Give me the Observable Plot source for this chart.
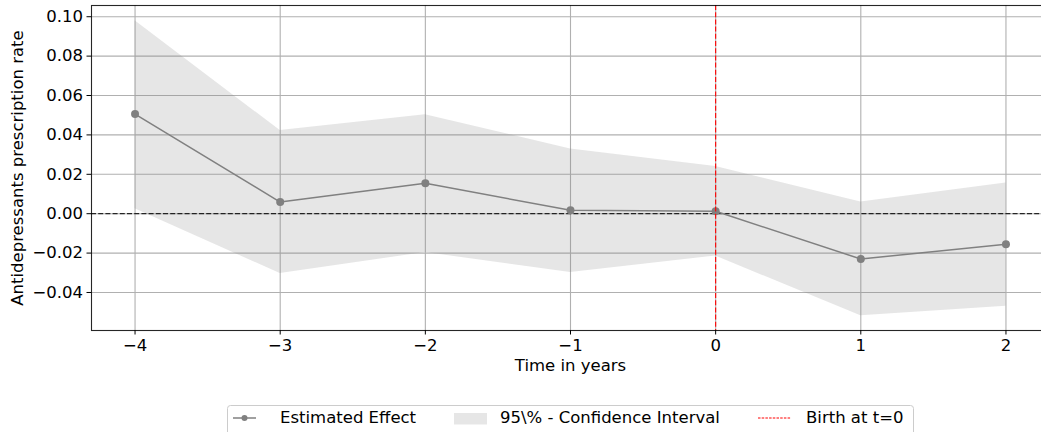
<!DOCTYPE html>
<html>
<head>
<meta charset="utf-8">
<script src="https://cdn.jsdelivr.net/npm/d3@7"></script>
<script src="https://cdn.jsdelivr.net/npm/@observablehq/plot@0.6"></script>
<style>
  html, body { margin: 0; padding: 0; background: white; }
  #wrap { position: relative; width: 1041px; height: 432px; overflow: hidden; background: white; font-family: "DejaVu Sans", sans-serif; }
  #wrap svg.plot { position: absolute; left: 0; top: 0; max-width: none !important; width: 1050px !important; height: 390px !important; }
  #legend { position: absolute; left: 0; top: 0; }
</style>
</head>
<body>
<div id="wrap"></div>
<script>
const years = [-4, -3, -2, -1, 0, 1, 2];
const estimate = [0.0506, 0.0059, 0.0155, 0.0017, 0.0012, -0.0230, -0.0155];
const ciUpper = [0.0980, 0.0422, 0.0502, 0.0329, 0.0240, 0.0059, 0.0156];
const ciLower = [0.0025, -0.0304, -0.0197, -0.0299, -0.0215, -0.0518, -0.0470];
const xTicks = [-4, -3, -2, -1, 0, 1, 2];
const yTicks = [-0.04, -0.02, 0.00, 0.02, 0.04, 0.06, 0.08, 0.10];
const legendLabels = ["Estimated Effect", "95\\% - Confidence Interval", "Birth at t=0"];

const data = years.map((t, i) => ({t, est: estimate[i], lo: ciLower[i], hi: ciUpper[i]}));
const fmtX = d => d < 0 ? "\u2212" + (-d) : String(d);
const fmtY = d3.format(".2f");

const chart = Plot.plot({
  width: 1050,
  height: 390,
  marginLeft: 91,
  marginRight: 1,
  marginTop: 5,
  marginBottom: 60,
  style: {fontFamily: "DejaVu Sans", fontSize: "16.5px", color: "black", background: "white"},
  x: {domain: [-4.3, 2.3]},
  y: {domain: [-0.0593, 0.1057]},
  marks: [
    Plot.gridX(xTicks, {stroke: "#b0b0b0", strokeOpacity: 1, strokeWidth: 1.1}),
    Plot.gridY(yTicks, {stroke: "#b0b0b0", strokeOpacity: 1, strokeWidth: 1.1}),
    Plot.areaY(data, {x: "t", y1: "lo", y2: "hi", fill: "grey", fillOpacity: 0.2}),
    Plot.ruleY([0], {stroke: "black", strokeWidth: 1, strokeDasharray: "5,2.2"}),
    Plot.line(data, {x: "t", y: "est", stroke: "grey", strokeWidth: 1.5}),
    Plot.dot(data, {x: "t", y: "est", fill: "grey", r: 4}),
    Plot.ruleX([0], {stroke: "#ff0000", strokeWidth: 1.1, strokeDasharray: "5,2.2"}),
    Plot.axisX(xTicks, {tickFormat: fmtX, tickSize: 4.5, tickPadding: 4, label: "Time in years", labelAnchor: "center", labelArrow: "none", labelOffset: 40}),
    Plot.axisY(yTicks, {tickFormat: fmtY, tickSize: 4.5, tickPadding: 4, label: "Antidepressants prescription rate", labelAnchor: "center", labelArrow: "none", labelOffset: 80}),
    Plot.frame({stroke: "black", strokeWidth: 1.1, strokeOpacity: 0.85})
  ]
});
chart.classList.add("plot");
const wrap = document.getElementById("wrap");
wrap.appendChild(chart);

// Legend (below the SVG)
const ns = "http://www.w3.org/2000/svg";
const leg = document.createElementNS(ns, "svg");
leg.setAttribute("id", "legend");
leg.setAttribute("width", 1041);
leg.setAttribute("height", 432);
leg.innerHTML = `
  <rect x="227.5" y="405.5" width="686" height="40" rx="3" fill="white" stroke="#cccccc" stroke-width="1"/>
  <line x1="233" y1="418" x2="256" y2="418" stroke="grey" stroke-width="1.5"/>
  <circle cx="244.5" cy="418" r="3" fill="grey"/>
  <text x="280" y="423" font-family="DejaVu Sans" font-size="16.5" fill="black"></text>
  <rect x="454" y="413" width="33" height="11.5" fill="grey" fill-opacity="0.2"/>
  <text x="500" y="423" font-family="DejaVu Sans" font-size="16.5" fill="black"></text>
  <line x1="758" y1="418" x2="791" y2="418" stroke="red" stroke-width="1" stroke-dasharray="2.5,1.2"/>
  <text x="806" y="423" font-family="DejaVu Sans" font-size="16.5" fill="black"></text>
`;
const texts = leg.querySelectorAll("text");
legendLabels.forEach((s, i) => texts[i].textContent = s);
wrap.appendChild(leg);
</script>
</body>
</html>
